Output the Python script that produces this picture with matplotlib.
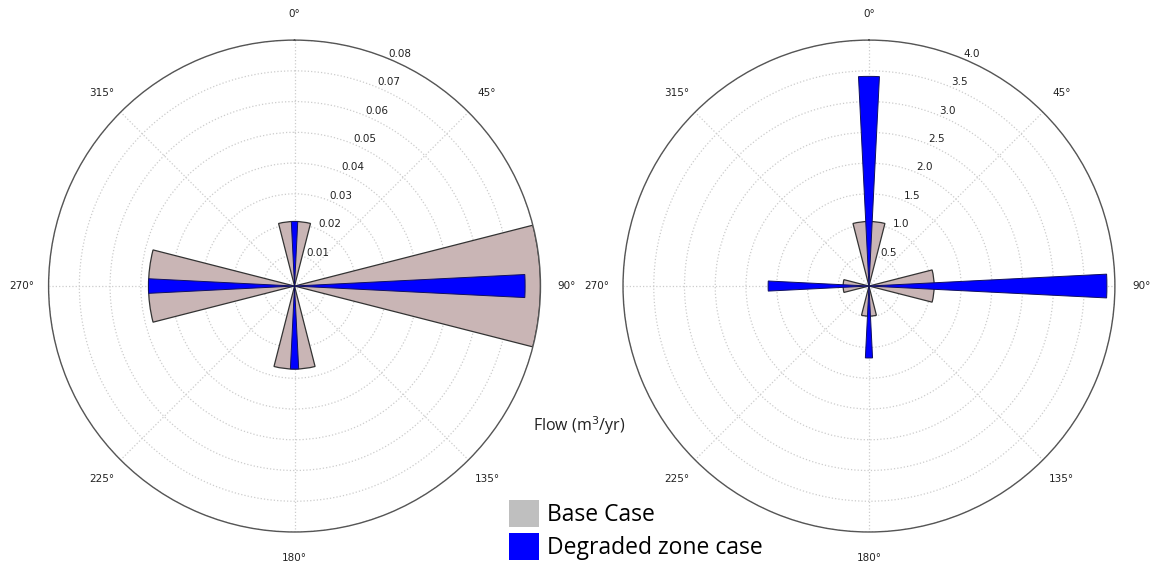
import numpy as np
import matplotlib
matplotlib.use("Agg")
import matplotlib.pyplot as plt
from matplotlib.patches import Patch

# directions of the four flow sectors (degrees, clockwise from north)
directions = [0, 90, 180, 270]

# left panel: flow values (m3/yr)
left_base = [0.021, 0.080, 0.027, 0.0475]
left_degraded = [0.021, 0.075, 0.027, 0.0475]
left_ticks = [0.01, 0.02, 0.03, 0.04, 0.05, 0.06, 0.07, 0.08]
left_tick_labels = ['0.01', '0.02', '0.03', '0.04', '0.05', '0.06', '0.07', '0.08']

# right panel: flow values (m3/yr)
right_base = [1.05, 1.06, 0.49, 0.42]
right_degraded = [3.41, 3.87, 1.17, 1.64]
right_ticks = [0.5, 1.0, 1.5, 2.0, 2.5, 3.0, 3.5, 4.0]
right_tick_labels = ['0.5', '1.0', '1.5', '2.0', '2.5', '3.0', '3.5', '4.0']

angle_labels = ['0°', '45°', '90°', '135°', '180°', '225°', '270°', '315°']

base_color = '#c9b5b5'
degraded_color = '#0000ff'
legend_gray = '#bfbfbf'


def draw_rose(ax, base, degraded, ticks, tick_labels):
    theta = np.deg2rad(directions)
    ax.set_theta_zero_location('N')
    ax.set_theta_direction(-1)
    ax.bar(theta, base, width=0.5, bottom=0, color=base_color,
           edgecolor='#333333', linewidth=0.9, zorder=2)
    ax.bar(theta, degraded, width=0.1, bottom=0, color=degraded_color,
           edgecolor='#101060', linewidth=0.7, zorder=3)
    ax.set_ylim(0, ticks[-1])
    ax.set_yticks(ticks)
    ax.set_yticklabels(tick_labels, fontsize=7.5, color='#222222')
    ax.set_rlabel_position(22.5)
    ax.set_xticks(np.deg2rad(np.arange(0, 360, 45)))
    ax.set_xticklabels(angle_labels, fontsize=7.5, color='#222222')
    ax.tick_params(axis='x', pad=8.5)
    ax.grid(True, color='#cccccc', linestyle=':', linewidth=0.9)
    ax.spines['polar'].set_color('#555555')
    ax.spines['polar'].set_linewidth(1.0)
    ax.set_axisbelow(True)


fig = plt.figure(figsize=(11.53, 5.68), dpi=100)

ax1 = fig.add_axes([0.0421, 0.0634, 0.4267, 0.866], projection='polar')
draw_rose(ax1, left_base, left_degraded, left_ticks, left_tick_labels)

ax2 = fig.add_axes([0.5403, 0.0634, 0.4267, 0.866], projection='polar')
draw_rose(ax2, right_base, right_degraded, right_ticks, right_tick_labels)

fig.text(0.462, 0.25, 'Flow (m$^3$/yr)', fontsize=11.5, family='Open Sans',
         color='#222222', va='center')

handles = [Patch(facecolor=legend_gray, edgecolor='none', label='Base Case'),
           Patch(facecolor=degraded_color, edgecolor='none', label='Degraded zone case')]
fig.legend(handles=handles, loc='lower left', bbox_to_anchor=(0.424, -0.022),
           frameon=False, prop={'family': 'Open Sans', 'size': 16.5},
           handlelength=1.3, handleheight=1.45, labelspacing=0.25, handletextpad=0.35)

fig.savefig('out.png', dpi=100)
